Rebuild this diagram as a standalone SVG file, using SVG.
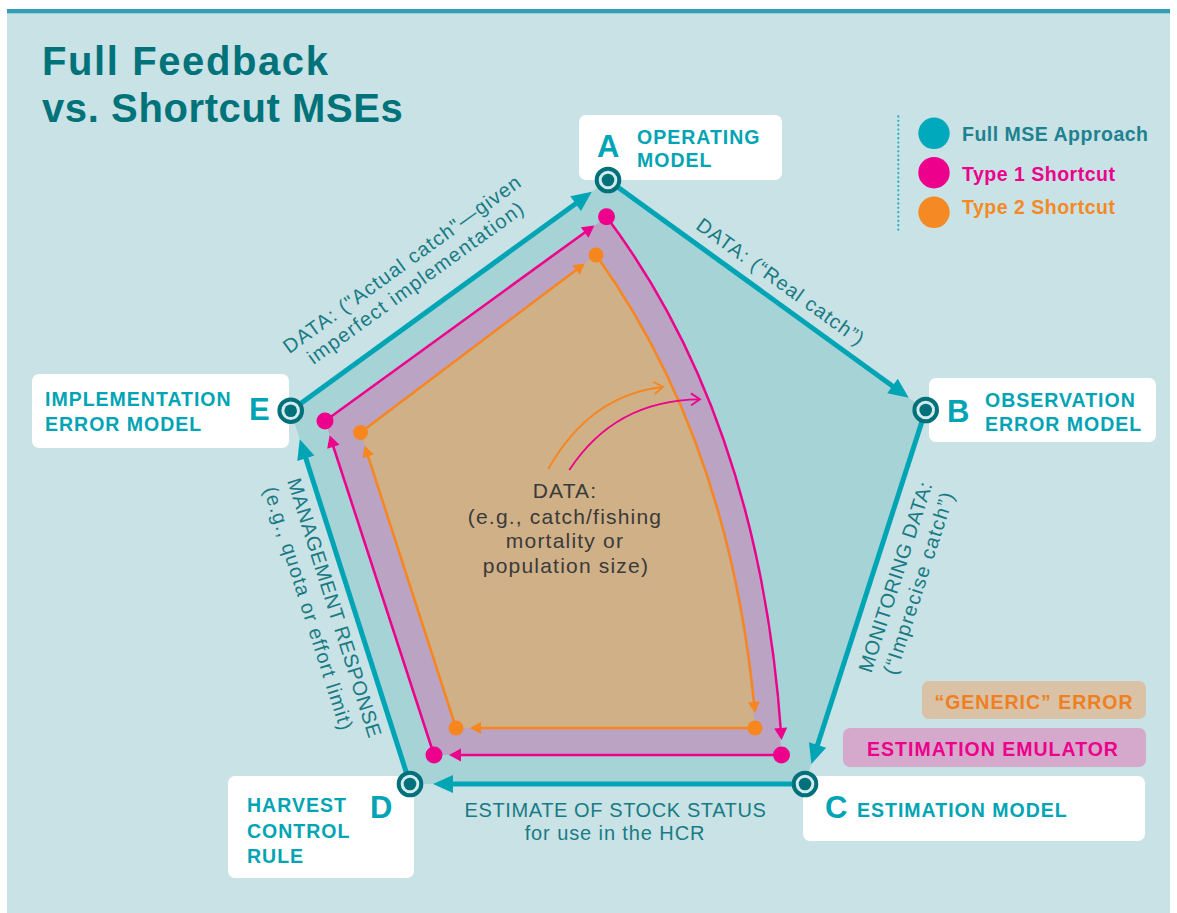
<svg xmlns="http://www.w3.org/2000/svg" width="1177" height="913" viewBox="0 0 1177 913">
<defs>
<style>
.bg{fill:#c9e2e6}
.box{fill:#ffffff}
.nl{font-family:"Liberation Sans",Arial,sans-serif;font-weight:bold;font-size:19.5px;fill:#00a4b4;letter-spacing:1px}
.big{font-family:"Liberation Sans",Arial,sans-serif;font-weight:bold;font-size:31px;fill:#00a4b4}
.el{font-family:"Liberation Sans",Arial,sans-serif;font-size:20px;fill:#187b84}
.ct{font-family:"Liberation Sans",Arial,sans-serif;font-size:21px;fill:#3a3a3a;letter-spacing:1.2px}
.lg{font-family:"Liberation Sans",Arial,sans-serif;font-weight:bold;font-size:19.5px;letter-spacing:0.5px}
.teal{fill:none;stroke:#00a5b5;stroke-width:5}
.pink{fill:none;stroke:#ec008c;stroke-width:2.5}
.orng{fill:none;stroke:#f7861f;stroke-width:2.5}
.ring{fill:#d4eaec;stroke:#00717a;stroke-width:4}
.dot{fill:#00717a}
</style>
<marker id="aT" markerUnits="userSpaceOnUse" markerWidth="20" markerHeight="18" refX="8" refY="9" orient="auto" overflow="visible"><path d="M0,0 L20,9 L0,18 z" fill="#00a5b5"/></marker>
<marker id="aP" markerUnits="userSpaceOnUse" markerWidth="12" markerHeight="13" refX="7" refY="6.5" orient="auto" overflow="visible"><path d="M0,0 L12,6.5 L0,13 z" fill="#ec008c"/></marker>
<marker id="aO" markerUnits="userSpaceOnUse" markerWidth="11" markerHeight="12" refX="6" refY="6" orient="auto" overflow="visible"><path d="M0,0 L11,6 L0,12 z" fill="#f7861f"/></marker>
<marker id="cO" markerUnits="userSpaceOnUse" markerWidth="10" markerHeight="14" refX="9" refY="6" orient="auto" overflow="visible"><path d="M0,0 L9,6 L0,12" fill="none" stroke="#f7861f" stroke-width="1.8"/></marker>
<marker id="cP" markerUnits="userSpaceOnUse" markerWidth="10" markerHeight="14" refX="9" refY="6" orient="auto" overflow="visible"><path d="M0,0 L9,6 L0,12" fill="none" stroke="#ec008c" stroke-width="1.8"/></marker>
</defs>

<rect x="0" y="0" width="1177" height="913" fill="#ffffff"/>
<rect x="7" y="9" width="1163" height="4.5" fill="#329fb4"/>
<rect class="bg" x="7" y="14" width="1163" height="899"/>

<g id="title">
<text x="42" y="75" font-family="'Liberation Sans',Arial,sans-serif" font-weight="bold" font-size="40" fill="#00737a" letter-spacing="1.6">Full Feedback</text>
<text x="42" y="121.7" font-family="'Liberation Sans',Arial,sans-serif" font-weight="bold" font-size="40" fill="#00737a" letter-spacing="0.6">vs. Shortcut MSEs</text>
</g>

<g id="legend">
<line x1="898.3" y1="116.5" x2="898.3" y2="233" stroke="#2bb0be" stroke-width="2.3" stroke-linecap="round" stroke-dasharray="0 4.35"/>
<circle cx="934" cy="133.3" r="15.7" fill="#00a9bb"/>
<circle cx="934" cy="172.7" r="15.7" fill="#ec008c"/>
<circle cx="934" cy="212.3" r="15.7" fill="#f58a25"/>
<text class="lg" x="962" y="140.7" fill="#1e8190" letter-spacing="0.5">Full MSE Approach</text>
<text class="lg" x="962" y="181" fill="#ec008c">Type 1 Shortcut</text>
<text class="lg" x="962" y="214.3" fill="#f58a25">Type 2 Shortcut</text>
</g>

<g id="regions">
<path d="M608,180 L925.7,410 L805,784 L410,784 L290.7,410.7 Z" fill="#a6d3d6"/>
<path d="M606.5,216.7 Q760,420 781.5,755 L434,755 L325,421 Z" fill="#bba3c3"/>
<path d="M596,255 Q730,440 755,728 L456,728 L360.5,432.5 Z" fill="#cfb087"/>
</g>

<g id="node-A">
<rect class="box" x="579" y="115" width="203" height="65" rx="7"/>
<text class="big" x="597" y="157">A</text>
<text class="nl" x="637" y="144.3">OPERATING</text>
<text class="nl" x="637" y="166.7">MODEL</text>
</g>
<g id="node-B">
<rect class="box" x="929" y="378" width="227" height="64" rx="7"/>
<text class="big" x="947" y="422">B</text>
<text class="nl" x="985" y="406.7" letter-spacing="0.6">OBSERVATION</text>
<text class="nl" x="985" y="430.7" letter-spacing="0.6">ERROR MODEL</text>
</g>
<g id="node-C">
<rect class="box" x="803" y="776" width="342" height="65" rx="7"/>
<text class="big" x="825" y="818">C</text>
<text class="nl" x="857" y="817">ESTIMATION MODEL</text>
</g>
<g id="node-D">
<rect class="box" x="228" y="776" width="186" height="102" rx="7"/>
<text class="nl" x="247" y="811.7">HARVEST</text>
<text class="nl" x="247" y="837.7">CONTROL</text>
<text class="nl" x="247" y="862.7">RULE</text>
<text class="big" x="370" y="818">D</text>
</g>
<g id="node-E">
<rect class="box" x="32" y="374" width="257" height="74" rx="7"/>
<text class="nl" x="45" y="405.7" letter-spacing="1.2">IMPLEMENTATION</text>
<text class="nl" x="45" y="430.7" letter-spacing="1.2">ERROR MODEL</text>
<text class="big" x="249" y="420">E</text>
</g>

<g id="key-generic">
<rect x="922" y="681" width="224" height="38" rx="7" fill="#d9c2a5"/>
<text class="nl" x="1034" y="709" text-anchor="middle" style="fill:#f07f22" letter-spacing="0.65">“GENERIC” ERROR</text>
</g>
<g id="key-emulator">
<rect x="843" y="728" width="303" height="39" rx="7" fill="#d5a9cb"/>
<text class="nl" x="993" y="756" text-anchor="middle" style="fill:#ec008c">ESTIMATION EMULATOR</text>
</g>

<g id="connectors">
<line class="teal" x1="290.7" y1="410.7" x2="582.1" y2="198.9" marker-end="url(#aT)"/>
<line class="teal" x1="608" y1="180" x2="899" y2="390.7" marker-end="url(#aT)"/>
<line class="teal" x1="925.7" y1="410" x2="815.1" y2="752.6" marker-end="url(#aT)"/>
<line class="teal" x1="805" y1="784" x2="445" y2="784" marker-end="url(#aT)"/>
<line class="teal" x1="410" y1="784" x2="303.4" y2="450.7" marker-end="url(#aT)"/>

<line class="pink" x1="325" y1="421" x2="590.3" y2="228.4" marker-end="url(#aP)"/>
<path class="pink" d="M606.5,216.7 Q759,420 781.2,735" marker-end="url(#aP)"/>
<line class="pink" x1="781.5" y1="755" x2="454" y2="755" marker-end="url(#aP)"/>
<line class="pink" x1="434" y1="755" x2="331.2" y2="440" marker-end="url(#aP)"/>

<line class="orng" x1="360.5" y1="432.5" x2="580.8" y2="266.4" marker-end="url(#aO)"/>
<path class="orng" d="M596,255 Q729,440 754.5,708" marker-end="url(#aO)"/>
<line class="orng" x1="755" y1="728" x2="475" y2="728" marker-end="url(#aO)"/>
<line class="orng" x1="456" y1="728" x2="366.3" y2="450.6" marker-end="url(#aO)"/>

<path d="M548.3,469 Q590,395 663,387" fill="none" stroke="#f7861f" stroke-width="1.8" marker-end="url(#cO)"/>
<path d="M569.3,470 Q615,400 700,399.3" fill="none" stroke="#ec008c" stroke-width="1.8" marker-end="url(#cP)"/>
</g>

<g id="dots">
<circle cx="606.5" cy="216.7" r="8.5" fill="#ec008c"/>
<circle cx="781.5" cy="755" r="8.5" fill="#ec008c"/>
<circle cx="434" cy="755" r="8.5" fill="#ec008c"/>
<circle cx="325" cy="421" r="8.5" fill="#ec008c"/>
<circle cx="596" cy="255" r="7.5" fill="#f7861f"/>
<circle cx="755" cy="728" r="7.5" fill="#f7861f"/>
<circle cx="456" cy="728" r="7.5" fill="#f7861f"/>
<circle cx="360.5" cy="432.5" r="7.5" fill="#f7861f"/>
</g>

<g id="vertex-markers">
<circle class="ring" cx="608" cy="180" r="11.3"/><circle class="dot" cx="608" cy="180" r="6.3"/>
<circle class="ring" cx="925.7" cy="410" r="11.3"/><circle class="dot" cx="925.7" cy="410" r="6.3"/>
<circle class="ring" cx="805" cy="784" r="11.3"/><circle class="dot" cx="805" cy="784" r="6.3"/>
<circle class="ring" cx="410" cy="784" r="11.3"/><circle class="dot" cx="410" cy="784" r="6.3"/>
<circle class="ring" cx="290.7" cy="410.7" r="11.3"/><circle class="dot" cx="290.7" cy="410.7" r="6.3"/>
</g>

<g id="edge-labels">
<text class="el" transform="translate(406.3,269.5) rotate(-35.9)" text-anchor="middle"><tspan x="0" y="0" letter-spacing="1.1">DATA: ("Actual catch"—given</tspan><tspan x="0" y="23" letter-spacing="1.3">imperfect implementation)</tspan></text>
<text class="el" transform="translate(776.7,287.4) rotate(35.9)" text-anchor="middle" letter-spacing="1">DATA: (“Real catch”)</text>
<text class="el" transform="translate(901.9,578.9) rotate(-72.1)" text-anchor="middle"><tspan x="0" y="0" letter-spacing="0.5">MONITORING DATA:</tspan><tspan x="1.5" y="24" letter-spacing="1.3">(“Imprecise catch”)</tspan></text>
<text class="el" transform="translate(328,610) rotate(72.4)" text-anchor="middle"><tspan x="0" y="0" letter-spacing="0.6">MANAGEMENT RESPONSE</tspan><tspan x="-7" y="25" letter-spacing="1.1">(e.g., quota or effort limit)</tspan></text>
<text class="el" x="615.5" y="816.5" text-anchor="middle" letter-spacing="0.6">ESTIMATE OF STOCK STATUS</text>
<text class="el" x="615" y="840" text-anchor="middle" letter-spacing="0.9">for use in the HCR</text>
</g>

<g id="center-label">
<text class="ct" text-anchor="middle"><tspan x="565" y="498">DATA:</tspan><tspan x="565" y="524">(e.g., catch/fishing</tspan><tspan x="565" y="548">mortality or</tspan><tspan x="566" y="573">population size)</tspan></text>
</g>
</svg>
